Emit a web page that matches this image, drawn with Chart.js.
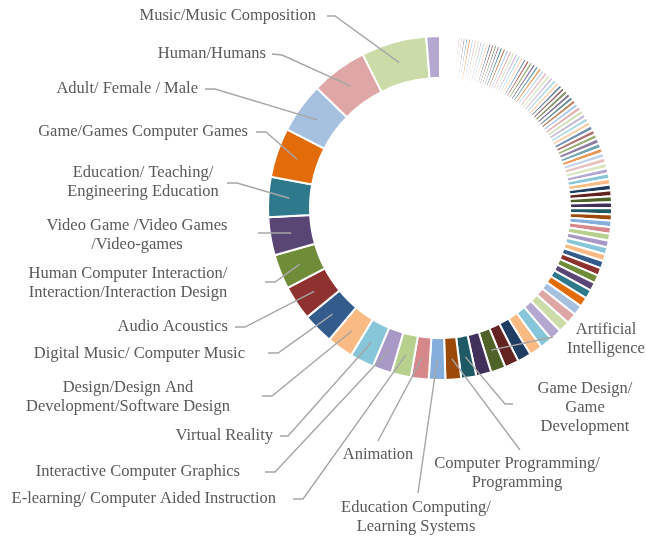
<!DOCTYPE html>
<html>
<head>
<meta charset="utf-8">
<script src="https://cdn.jsdelivr.net/npm/chart.js@4.4.1/dist/chart.umd.min.js"></script>
<style>
html,body{margin:0;padding:0;background:#ffffff;}
#wrap{width:646px;height:537px;}
</style>
</head>
<body>
<div id="wrap"><canvas id="c" width="646" height="537"></canvas></div>
<script>
// Keyword shares, listed counter-clockwise from 12 o'clock (largest labelled first)
const keywordNames = [
  '',
  'Music/Music Composition',
  'Human/Humans',
  'Adult/ Female / Male',
  'Game/Games Computer Games',
  'Education/ Teaching/\nEngineering Education',
  'Video Game /Video Games\n/Video-games',
  'Human Computer Interaction/\nInteraction/Interaction Design',
  'Audio Acoustics',
  'Digital Music/ Computer Music',
  'Design/Design And\nDevelopment/Software Design',
  'Virtual Reality',
  'Interactive Computer Graphics',
  'E-learning/ Computer Aided Instruction',
  'Animation',
  'Education Computing/\nLearning Systems',
  'Computer Programming/\nProgramming',
  'Game Design/\nGame\nDevelopment',
  '',
  'Artificial\nIntelligence'
];

const labelledShares = [4.6, 22.1, 19.0, 17.1, 16.7, 13.5, 12.9, 11.7, 11.7, 10.5, 9.0, 8.1, 6.6, 6.6, 6.0, 5.6, 5.3, 5.1, 5.1, 5.0];

const otherShares = [
  4.8, 4.6, 4.4, 4.2, 4.0, 3.8, 3.6, 3.4, 3.2, 3.0, 2.8, 2.7, 2.6, 2.5, 2.4, 2.4, 2.3, 2.3, 2.2, 2.2, 2.1,
  2.1, 2.0, 2.0, 2.0, 1.9, 1.9, 1.9,
  1.8, 1.8, 1.8, 1.7, 1.7, 1.7, 1.7, 1.6, 1.6, 1.6, 1.6,
  1.5, 1.5, 1.5, 1.5, 1.4, 1.4, 1.4, 1.4, 1.4, 1.3, 1.3, 1.3, 1.3, 1.3,
  1.3, 1.3, 1.2, 1.2, 1.2, 1.2, 1.2, 1.2, 1.1, 1.1, 1.1, 1.1, 1.1, 1.1, 1.1, 1.1,
  1.1, 1.0, 1.0, 1.0, 1.0, 1.0, 1.0, 1.0, 1.0, 1.0, 1.0, 1.0,
  0.9, 0.9, 0.8, 0.8, 0.7, 0.7, 0.6, 0.6, 0.5, 0.5, 0.5, 0.5, 0.4, 0.4, 0.4, 0.3
];

// ---- styling ----
const lightCycle = ['#CCDCA8','#DEA7A6','#A6C0E0','#E26B0A','#2E7A8C','#5A4675','#6F8C38','#8E3230','#335B8C','#F9BB83','#86C6D8','#A898C6'];
const darkCycle  = ['#B7D08E','#D5878A','#86AEDD','#9C4A09','#1E5A66','#40305A','#4F6228','#622321','#1F3D62','#F9BB83','#86C6D8','#B4A7D0'];
function tint(hex, t){
  const n = parseInt(hex.slice(1), 16);
  const r = (n >> 16) & 255, g = (n >> 8) & 255, b = n & 255;
  const m = v => Math.round(v + (255 - v) * t);
  return 'rgb(' + m(r) + ',' + m(g) + ',' + m(b) + ')';
}
function colorFor(i){
  const k = i - 1;
  const p = ((k % 12) + 12) % 12;
  const c = Math.floor(k / 12);
  const base = (((c % 2) + 2) % 2 === 0 ? lightCycle : darkCycle)[p];
  return c >= 4 ? tint(base, 0.3) : base;
}

const ccwValues = labelledShares.concat(otherShares);
const ccwLabels = ccwValues.map((v, i) => keywordNames[i] || '');
const ccwColors = ccwValues.map((v, i) => colorFor(i));
const N = ccwValues.length;

// Chart.js draws clockwise, so reverse
const cwValues = ccwValues.slice().reverse();
const cwLabels = ccwLabels.slice().reverse();
const cwColors = ccwColors.slice().reverse();

// label layout (ccw index -> text position & leader-line points)
const labelLayout = {
  1:  {x:316, y:16,  align:'right',  pts:[[335,16],[327,16]]},
  2:  {x:266, y:54,  align:'right',  pts:[[282,55],[272,54]]},
  3:  {x:198, y:89,  align:'right',  pts:[[215,89],[205,89]]},
  4:  {x:248, y:132, align:'right',  pts:[[266,132],[256,132]]},
  5:  {x:143, y:173, align:'center', pts:[[237,183],[227,183]]},
  6:  {x:137, y:226, align:'center', pts:[[268,233],[258,233]]},
  7:  {x:128, y:274, align:'center', pts:[[275,282],[265,282]]},
  8:  {x:228, y:327, align:'right',  pts:[[245,327],[235,327]]},
  9:  {x:245, y:354, align:'right',  pts:[[278,353],[268,353]]},
  10: {x:128, y:388, align:'center', pts:[[272,396],[262,396]]},
  11: {x:273, y:436, align:'right',  pts:[[288,436],[280,436]]},
  12: {x:240, y:472, align:'right',  pts:[[275,472],[265,472]]},
  13: {x:276, y:499, align:'right',  pts:[[303,499],[293,499]]},
  14: {x:378, y:455, align:'center', pts:[[378,441]]},
  15: {x:416, y:508, align:'center', pts:[[418,493]]},
  16: {x:517, y:464, align:'center', pts:[[520,450]]},
  17: {x:585, y:389, align:'center', pts:[[505,404],[513,404]]},
  19: {x:606, y:330, align:'center', pts:[[553,337]]}
};

const outsideLabels = {
  id: 'outsideLabels',
  afterDatasetsDraw(chart) {
    const ctx = chart.ctx;
    const meta = chart.getDatasetMeta(0);
    const labels = chart.data.labels;
    ctx.save();
    Object.keys(labelLayout).forEach(k => {
      const i = +k;
      const j = N - 1 - i;
      const arc = meta.data[j];
      const p = arc.getProps(['x','y','startAngle','endAngle','innerRadius','outerRadius'], true);
      const mid = (p.startAngle + p.endAngle) / 2;
      const r = (p.innerRadius + p.outerRadius) / 2;
      const ax = p.x + Math.cos(mid) * r;
      const ay = p.y + Math.sin(mid) * r;
      const L = labelLayout[k];
      ctx.beginPath();
      ctx.moveTo(ax, ay);
      L.pts.forEach(q => ctx.lineTo(q[0], q[1]));
      ctx.strokeStyle = '#A6A6A6';
      ctx.lineWidth = 1.4;
      ctx.stroke();
      const lines = labels[j].split('\n');
      ctx.fillStyle = '#595959';
      ctx.font = '16.5px "Liberation Serif", "Times New Roman", serif';
      ctx.textAlign = L.align;
      ctx.textBaseline = 'middle';
      lines.forEach((t, n) => ctx.fillText(t, L.x, L.y + n * 19));
    });
    ctx.restore();
  }
};

new Chart(document.getElementById('c'), {
  type: 'doughnut',
  data: {
    labels: cwLabels,
    datasets: [{
      data: cwValues,
      backgroundColor: cwColors,
      borderColor: '#ffffff',
      borderWidth: 2,
      hoverBorderWidth: 2,
      hoverOffset: 0,
      offset: 0
    }]
  },
  options: {
    responsive: false,
    animation: false,
    cutout: 130,
    layout: {padding: {left: 267, right: 33, top: 35, bottom: 156}},
    plugins: {legend: {display: false}, tooltip: {enabled: false}}
  },
  plugins: [outsideLabels]
});
</script>
</body>
</html>
